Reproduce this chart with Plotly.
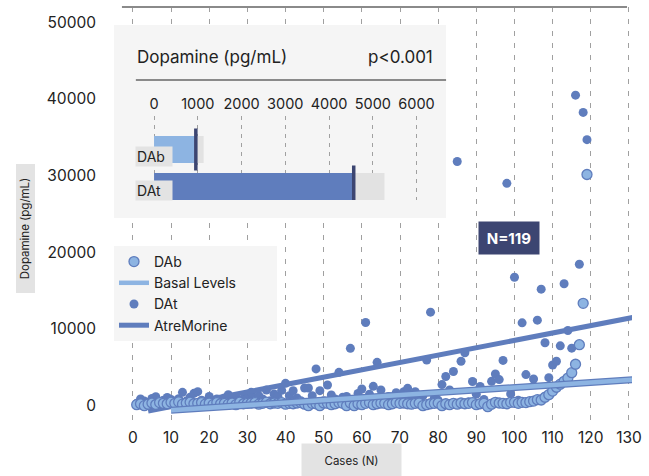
import plotly.graph_objects as go

# ---------------- data ----------------
cases = list(range(1, 120))

dat_values = [
    300, 870, 600, 430, 950, 1170, 500, 700, 1080, 800,
    300, 900, 1740, 600, 1100, 1610, 1830, 700, 500, 1210,
    400, 870, 600, 1000, 1430, 800, 1100, 500, 900, 1170,
    1740, 1000, 1300, 870, 2050, 650, 1530, 1200, 2000, 2910,
    1300, 1960, 1000, 650, 2300, 2300, 1300, 4790, 1960, 650,
    2700, 1400, 870, 4350, 1100, 1210, 7480, 650, 1600, 2170,
    10850, 1500, 2520, 5650, 2050, 1000, 1210, 900, 1700, 870,
    1830, 2260, 1200, 1830, 900, 1300, 5950, 12200, 1000, 700,
    2750, 3800, 2050, 4450, 31850, 5800, 6900, 520, 3150, 1500,
    2500, 800, 130, 3170, 4130, 3400, 5900, 29000, 1530, 16750,
    700, 10800, 4050, 430, 3480, 11150, 15200, 8200, 3650, 5300,
    5800, 7800, 15900, 9800, 7500, 40500, 18450, 38250, 34700,
]

dab_values = [
    130, 250, 0, 200, 350, 150, 400, 300, 250, 450,
    300, 500, 200, 350, 450, 250, 300, 400, 200, 350,
    130, 400, 250, 300, 200, 350, 130, 450, 250, 300,
    350, 400, 200, 300, 450, 250, 350, 300, 400, 200,
    300, 250, 350, 400, 200, 0, 300, 250, 0, 350,
    300, 130, 250, 400, 300, 0, 350, 0, 250, 130,
    300, 400, 130, 250, 350, 300, 130, 250, 400, 300,
    350, 250, 200, 300, 350, 0, 130, 250, 300, 350,
    0, 250, 130, 300, 200, 350, 250, 300, 400, 130,
    250, 300, -130, 200, 430, 350, 300, 250, 430, 430,
    300, 430, 400, 520, 600, 780, 740, 1100, 1430, 1900,
    2400, 2800, 3170, 3600, 4300, 5400, 7950, 13350, 30150,
]

fit_dat_x = [4, 131]
fit_dat_y = [-700, 11500]
fit_dab_x = [10, 131]
fit_dab_y = [-600, 3400]

inset_categories = ["DAb", "DAt"]
inset_means = [930, 4530]
inset_markers = [955, 4564]
inset_max = [1134, 5267]
inset_ticks = [0, 1000, 2000, 3000, 4000, 5000, 6000]
x_ticks = list(range(0, 131, 10))
y_ticks = [0, 10000, 20000, 30000, 40000, 50000]

# ---------------- styles ----------------
LIGHT = "#8db4e2"
DARK = "#5f7dbd"
NAVY = "#3c4571"
GRID = "#a0a0a0"
PANEL = "#f5f5f5"
FONT = "Inter, Roboto, sans-serif"

L, R, T, B = 112, 14, 7, 55
W, H = 649, 476
pw, ph = W - L - R, H - T - B


def px2x(p):
    return (p - L) / pw


def px2y(p):
    return (H - B - p) / ph


fig = go.Figure()

# main scatter + fits
fig.add_trace(go.Scatter(
    x=cases, y=dat_values, mode="markers", name="DAt",
    marker=dict(color=DARK, size=9, line=dict(width=0)),
    legendrank=3,
))
fig.add_trace(go.Scatter(
    x=fit_dat_x, y=fit_dat_y, mode="lines", name="AtreMorine",
    line=dict(color=DARK, width=5), legendrank=4,
))
fig.add_trace(go.Scatter(
    x=cases, y=dab_values, mode="markers", name="DAb",
    marker=dict(color=LIGHT, size=10, line=dict(width=1.3, color=DARK)),
    legendrank=1,
))
fig.add_trace(go.Scatter(
    x=fit_dab_x, y=fit_dab_y, mode="lines", showlegend=False,
    line=dict(color=DARK, width=7), hoverinfo="skip",
))
fig.add_trace(go.Scatter(
    x=fit_dab_x, y=fit_dab_y, mode="lines",
    name="Basal Levels" + "\u00a0" * 9,
    line=dict(color=LIGHT, width=4.5), legendrank=2,
))

# inset panel background (its own subplot, drawn over the main grid)
fig.add_trace(go.Bar(
    x=[0.5], y=[1], width=[1], xaxis="x2", yaxis="y2",
    marker=dict(color=PANEL, line=dict(width=0)), showlegend=False, hoverinfo="skip",
))

# inset bars
fig.add_trace(go.Bar(
    x=inset_max, y=inset_categories, orientation="h", xaxis="x3", yaxis="y3",
    marker=dict(color="#e2e2e2", line=dict(width=0)), width=0.73, showlegend=False,
))
fig.add_trace(go.Bar(
    x=inset_means, y=inset_categories, orientation="h", xaxis="x3", yaxis="y3",
    marker=dict(color=[LIGHT, DARK], line=dict(width=0)), width=0.73, showlegend=False,
))
fig.add_trace(go.Scatter(
    x=inset_markers, y=inset_categories, mode="markers", xaxis="x3", yaxis="y3",
    marker=dict(symbol="line-ns", size=30, line=dict(width=3.5, color=NAVY)),
    showlegend=False,
))

x3_left, x3_right = 132.3, 440.3
y3_top, y3_bot = 116, 200

x0_px = 133.0
ppu = 3.838
xmin = (L - x0_px) / ppu
xmax = (W - R - x0_px) / ppu

fig.update_layout(
    width=W, height=H,
    margin=dict(l=L, r=R, t=T, b=B),
    paper_bgcolor="white", plot_bgcolor="rgba(0,0,0,0)",
    font=dict(family=FONT, size=15, color="#222"),
    barmode="overlay",
    xaxis=dict(
        range=[xmin, xmax], tickvals=x_ticks, showgrid=True, gridcolor=GRID,
        griddash="5px,7px", gridwidth=1.3, zeroline=False, showline=False,
        ticklabelstandoff=5, tickfont=dict(size=15.5),
    ),
    yaxis=dict(
        range=[-2000, 52000], tickvals=y_ticks, tickformat="d", showgrid=False,
        zeroline=False, ticklabelstandoff=15, tickfont=dict(size=15.5),
    ),
    xaxis2=dict(domain=[px2x(114), px2x(448)], anchor="y2", range=[0, 1], visible=False),
    yaxis2=dict(domain=[px2y(218), px2y(25)], anchor="x2", range=[0, 1], visible=False),
    xaxis3=dict(
        domain=[px2x(x3_left), px2x(x3_right)], anchor="y3", side="top",
        range=[-500, 6500], tickvals=inset_ticks, showgrid=True, gridcolor=GRID,
        griddash="4px,5px", gridwidth=1, zeroline=False, showline=False,
        tickfont=dict(size=14.5), ticklabelstandoff=3,
    ),
    yaxis3=dict(
        domain=[px2y(y3_bot), px2y(y3_top)], anchor="x3",
        type="category", categoryorder="array", categoryarray=inset_categories,
        range=[1.365, -0.905], showticklabels=False, showgrid=False, zeroline=False,
    ),
    legend=dict(
        x=px2x(114), y=px2y(246), xanchor="left", yanchor="top",
        bgcolor=PANEL, font=dict(size=14, color="#222"),
        tracegroupgap=0, itemwidth=30,
    ),
    showlegend=True,
)

# separator in inset and top rule
fig.add_shape(type="line", xref="paper", yref="paper",
              x0=px2x(136), x1=px2x(448), y0=px2y(80), y1=px2y(80),
              line=dict(color="#8a8a8a", width=2))
fig.add_shape(type="line", xref="paper", yref="paper",
              x0=px2x(122), x1=px2x(630), y0=1, y1=1,
              line=dict(color="#8a8a8a", width=2))

ann = []
ann.append(dict(text="Dopamine (pg/mL)", xref="paper", yref="paper",
                x=px2x(135), y=px2y(57), xanchor="left", yanchor="middle",
                showarrow=False, font=dict(size=17, color="#222")))
ann.append(dict(text="p<0.001", xref="paper", yref="paper",
                x=px2x(437), y=px2y(57), xanchor="right", yanchor="middle",
                showarrow=False, font=dict(size=17, color="#222")))
for i, (cat, ys) in enumerate(zip(inset_categories, [-7, -4])):
    ann.append(dict(text=cat, xref="x3", yref="y3", x=0, y=i, yshift=ys,
                    xanchor="center", yanchor="middle", showarrow=False,
                    bgcolor="#e3e3e3", width=34, align="left", borderpad=1,
                    font=dict(size=14, color="#222")))
ann.append(dict(text="<b>N=119</b>", xref="x", yref="y", x=98.5, y=21930,
                showarrow=False, bgcolor=NAVY, width=52, height=24, borderpad=4,
                font=dict(size=15, color="white")))
ann.append(dict(text="Cases (N)", xref="paper", yref="paper",
                x=px2x(353), y=px2y(461), xanchor="center", yanchor="middle",
                showarrow=False, bgcolor="#e3e3e3", width=97, height=32,
                font=dict(size=11.5, color="#222")))
ann.append(dict(text="Dopamine (pg/mL)", xref="paper", yref="paper",
                x=px2x(25), y=px2y(228), xanchor="center", yanchor="middle",
                showarrow=False, bgcolor="#e3e3e3", textangle=-90,
                width=124, height=14, borderpad=2,
                font=dict(size=11.5, color="#222")))
fig.update_layout(annotations=ann)

fig.write_html("out.html")
